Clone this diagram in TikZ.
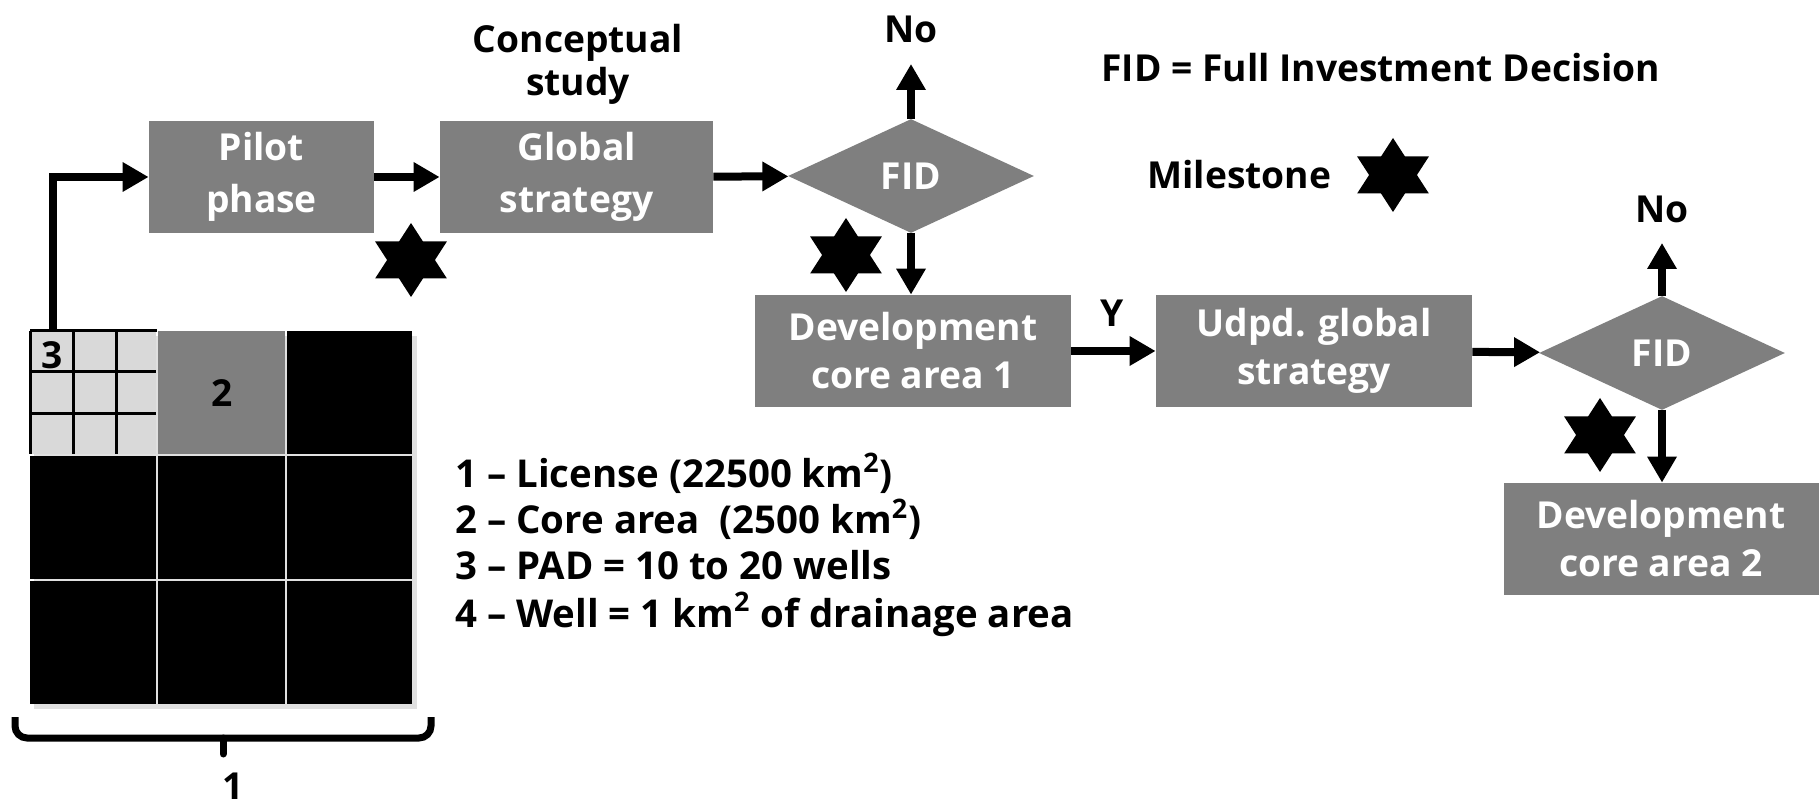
\documentclass[tikz,border=0pt]{standalone}
\usepackage{fontspec}
\setmainfont{Open Sans}
\usetikzlibrary{shapes.geometric,arrows.meta}
\definecolor{boxgray}{HTML}{7F7F7F}
\definecolor{lgray}{HTML}{D9D9D9}
\begin{document}
\begin{tikzpicture}[x=0.5pt,y=-0.5pt,
  txt/.style={font=\fontsize{18.6}{24}\selectfont\bfseries, align=center, inner sep=0pt},
  box/.style={txt, fill=boxgray, text=white, minimum height=112*0.5pt},
  widebox/.style={box, font=\fontsize{18.6}{26}\selectfont\bfseries},
  dec/.style={txt, diamond, fill=boxgray, text=white, aspect=2.15, minimum width=246*0.5pt, minimum height=114*0.5pt},
  arr/.style={line width=4pt, -{Triangle[width=14pt,length=13pt]}},
  legend/.style={txt, font=\fontsize{19.2}{24}\selectfont\bfseries, anchor=base west, align=left},
  milestone/.pic={\begin{scope}[xscale=1.12]
                  \fill (90:37) -- (210:37) -- (330:37) -- cycle;
                  \fill (270:37) -- (30:37) -- (150:37) -- cycle;\end{scope}}
]
\useasboundingbox (0,0) rectangle (1820,806);

% ---- grid (license) ----
\fill[black!12] (34,336) rectangle (417,709);
\foreach \x/\xx in {30/156,158/285,287/412}{
  \foreach \y/\yy in {331/454,456/579,581/704}{
    \fill[black] (\x,\y) rectangle (\xx,\yy);
  }
}
\fill[lgray] (30,331) rectangle (156,454);
\fill[boxgray] (158,331) rectangle (285,454);
\draw[line width=1.5pt] (30,331) -- (157,331);
\draw[line width=1.5pt] (30,331) -- (30,454);
\draw[line width=1.5pt] (73,331) -- (73,454);
\draw[line width=1.5pt] (116,331) -- (116,454);
\draw[line width=1.5pt] (30,372) -- (156,372);
\draw[line width=1.5pt] (30,414) -- (156,414);
\node[txt] (n3) at (52,355) {3};
\node[txt] (n2) at (222,393) {2};

% brace
\draw[line width=3.5pt, rounded corners=6pt] (15,717) -- (15,738) -- (431,738) -- (431,717);
\draw[line width=3.5pt, line cap=round] (223,738) -- (223,754);
\node[txt] (n1) at (233,786) {1};

% ---- process boxes ----
\node[widebox, minimum width=225*0.5pt] (pilot) at (261.5,177) {Pilot\\phase};
\node[widebox, minimum width=273*0.5pt] (glob) at (576.5,177) {Global\\strategy};
\node[dec] (fid1) at (911,176) {FID};
\node[box, minimum width=316*0.5pt] (dev1) at (913,351) {Development\\core area 1};
\node[box, minimum width=316*0.5pt] (udpd) at (1314,351) {Udpd. global\\strategy};
\node[dec] (fid2) at (1662,353) {FID};
\node[box, minimum width=315*0.5pt] (dev2) at (1661,539) {Development\\core area 2};

% labels
\node[txt, font=\fontsize{18.6}{21.5}\selectfont\bfseries] (concept) at (578,64) {Conceptual\\study};
\node[txt] (no1) at (911,29) {No};
\node[txt] (no2) at (1662,209) {No};
\node[txt] (ylab) at (1112,313) {Y};
\node[txt, anchor=west] (fiddef) at (1101,68) {FID = Full Investment Decision};
\node[txt, anchor=west] (mile) at (1147,175) {Milestone};

% legend
\node[legend] (l1) at (455,488) {1 -- License (22500 km\textsuperscript{2})};
\node[legend] (l2) at (455,534) {2 -- Core area \ (2500 km\textsuperscript{2})};
\node[legend] (l3) at (455,580) {3 -- PAD = 10 to 20 wells};
\node[legend] (l4) at (455,627) {4 -- Well = 1 km\textsuperscript{2} of drainage area};

% ---- connectors ----
\coordinate (gtop) at (53,331);
\coordinate (noend1) at (911,64);
\coordinate (noend2) at (1662,243);
\draw[arr] (gtop) |- (pilot.west);
\draw[arr] (pilot) -- (glob);
\draw[arr] (glob) -- (fid1);
\draw[arr] (fid1.north) -- (noend1);
\draw[arr] (fid1.south) -- (dev1.north -| fid1.south);
\draw[arr] (dev1) -- (udpd);
\draw[arr] (udpd) -- (fid2);
\draw[arr] (fid2.north) -- (noend2);
\draw[arr] (fid2.south) -- (dev2.north -| fid2.south);

% milestones
\pic at (411,260) {milestone};
\pic at (846,255) {milestone};
\pic at (1600,435) {milestone};
\pic at (1393,175) {milestone};
\end{tikzpicture}
\end{document}
